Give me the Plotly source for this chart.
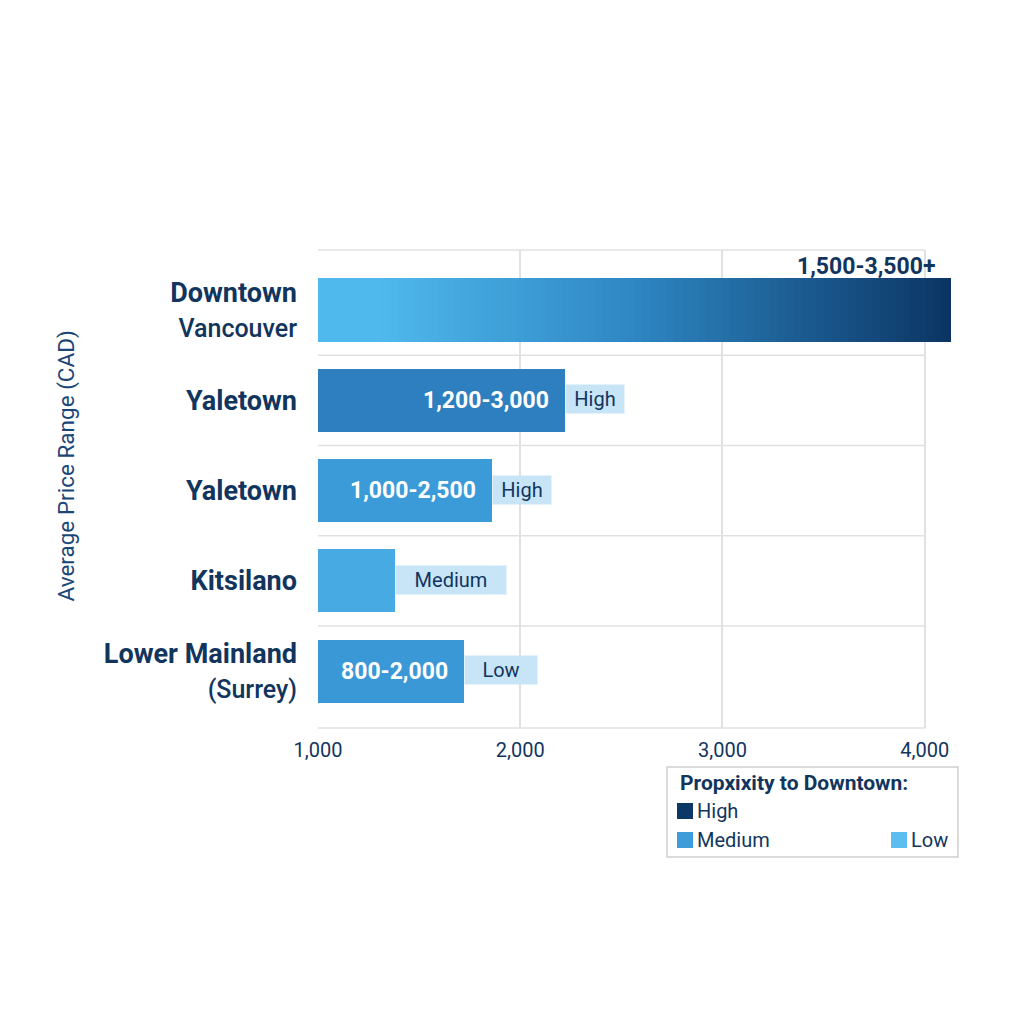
import numpy as np
import plotly.graph_objects as go

# ---------------- data ----------------
neighbourhoods = ["Downtown Vancouver", "Yaletown", "Yaletown", "Kitsilano", "Lower Mainland (Surrey)"]
tick_labels = ["<b>Downtown</b><br><span style='font-size:25px'>Vancouver</span>", "<b>Yaletown</b>",
               "<b>Yaletown</b>", "<b>Kitsilano</b>",
               "<b>Lower Mainland</b><br><span style='font-size:25px'>(Surrey)</span>"]
bar_end_values = [4130, 2220, 1860, 1380, 1720]
price_ranges = ["1,500-3,500+", "1,200-3,000", "1,000-2,500", "", "800-2,000"]
proximity = ["High", "High", "High", "Medium", "Low"]
x_ticks = [1000, 2000, 3000, 4000]
axis_start = 1000

# ---------------- style ----------------
NAVY = "#12355e"
bar_colors = [None, "#2e7fc0", "#3b9bd9", "#47aae2", "#3a98d6"]
box_bg = "#c8e5f8"
box_width = {"High": 56, "Medium": 108, "Low": 70}
legend_colors = {"High": "#0c3766", "Medium": "#3d9ddb", "Low": "#5cbdf0"}
FONT = "Roboto"
GRID = "#e1e1e1"

OFF = 8  # page body margin
W, H = 1024 - 2 * OFF, 1024 - 2 * OFF
ML, MT = 318 - OFF, 250 - OFF
MR = W - (952 - OFF)
MB = H - (728 - OFF)
pw, ph = W - ML - MR, H - MT - MB

def px_to_paper(px, py):
    # px, py are page pixel coordinates of the reference picture
    px -= OFF
    py -= OFF
    return (px - ML) / pw, (H - MB - py) / ph

y_pos = list(range(len(neighbourhoods)))
Y_RANGE = [4.63, -0.665]

fig = go.Figure()

# solid bars (all but the gradient one)
for i in range(1, len(neighbourhoods)):
    fig.add_trace(go.Bar(
        y=[y_pos[i]], x=[bar_end_values[i] - axis_start], base=[axis_start],
        orientation="h", width=0.70, marker=dict(color=bar_colors[i], line=dict(width=0)),
        hoverinfo="skip", showlegend=False))

# gradient bar for Downtown Vancouver (split into colour segments)
N = 80
edges = np.linspace(axis_start, bar_end_values[0], N + 1)
c_left = np.array([0x4f, 0xb8, 0xec])
c_mid = np.array([0x2e, 0x86, 0xc3])
c_right = np.array([0x0b, 0x35, 0x63])
seg_cols = []
for k in range(N):
    t = (k + 0.5) / N
    if t < 0.1:
        c = c_left
    elif t < 0.5:
        u = (t - 0.1) / 0.4
        c = c_left + (c_mid - c_left) * u
    else:
        u = (t - 0.5) / 0.5
        c = c_mid + (c_right - c_mid) * u
    seg_cols.append("rgb(%d,%d,%d)" % tuple(int(round(v)) for v in c))
fig.add_trace(go.Bar(
    y=[y_pos[0]] * N, x=list(np.diff(edges) * 1.02), base=list(edges[:-1]),
    orientation="h", width=0.70, marker=dict(color=seg_cols, line=dict(width=0)),
    hoverinfo="skip", showlegend=False))

annotations = []
# value labels
for i, txt in enumerate(price_ranges):
    if not txt:
        continue
    if i == 0:
        annotations.append(dict(x=bar_end_values[i], y=y_pos[i], xref="x", yref="y",
                                text="<b>%s</b>" % txt, showarrow=False, xanchor="right",
                                yanchor="middle", xshift=-14, yshift=44,
                                font=dict(family=FONT, size=23, color=NAVY)))
    else:
        annotations.append(dict(x=bar_end_values[i], y=y_pos[i], xref="x", yref="y",
                                text="<b>%s</b>" % txt, showarrow=False, xanchor="right",
                                yanchor="middle", xshift=-14,
                                font=dict(family=FONT, size=23, color="white")))
# proximity boxes
for i, p in enumerate(proximity):
    if i == 0:
        continue
    annotations.append(dict(x=bar_end_values[i], y=y_pos[i], xref="x", yref="y",
                            text=p, showarrow=False, xanchor="left", yanchor="middle",
                            width=box_width[p], height=26, bgcolor=box_bg, borderpad=1,
                            align="center", yshift=1,
                            font=dict(family=FONT, size=20, color=NAVY)))

# y-axis title
tx, ty = px_to_paper(50, 466)
annotations.append(dict(x=tx, y=ty, xref="paper", yref="paper", text="Average Price Range (CAD)",
                        textangle=-90, showarrow=False,
                        font=dict(family=FONT, size=22.5, color="#1a4677")))

shapes = []
# frame top/bottom and row separators (grid)
for yy in (0, 1):
    shapes.append(dict(type="line", xref="x", yref="paper", x0=x_ticks[0], x1=x_ticks[-1],
                       y0=yy, y1=yy, line=dict(color=GRID, width=1.5), layer="below"))
for k in range(1, len(neighbourhoods)):
    shapes.append(dict(type="line", xref="x", yref="y", x0=x_ticks[0], x1=x_ticks[-1],
                       y0=k - 0.5, y1=k - 0.5, line=dict(color=GRID, width=1.5), layer="below"))

# legend box
lx0, ly0 = px_to_paper(667, 857)
lx1, ly1 = px_to_paper(958, 767)
shapes.append(dict(type="rect", xref="paper", yref="paper", x0=lx0, y0=ly0, x1=lx1, y1=ly1,
                   line=dict(color="#cfcfcf", width=1.5), fillcolor="white"))
ax, ay = px_to_paper(678, 783)
annotations.append(dict(x=ax, y=ay, xref="paper", yref="paper", text="<b>Propxixity to Downtown:</b>",
                        showarrow=False, xanchor="left", yanchor="middle",
                        font=dict(family=FONT, size=21, color=NAVY)))
legend_items = [("High", 677, 811), ("Medium", 677, 840), ("Low", 891, 840)]
for name, sx, sy in legend_items:
    a0, b0 = px_to_paper(sx, sy + 8)
    a1, b1 = px_to_paper(sx + 16, sy - 8)
    shapes.append(dict(type="rect", xref="paper", yref="paper", x0=a0, y0=b0, x1=a1, y1=b1,
                       line=dict(width=0), fillcolor=legend_colors[name]))
    tx2, ty2 = px_to_paper(sx + 18, sy)
    annotations.append(dict(x=tx2, y=ty2, xref="paper", yref="paper", text=name, showarrow=False,
                            xanchor="left", yanchor="middle",
                            font=dict(family=FONT, size=20, color=NAVY)))

fig.update_layout(
    width=W, height=H, margin=dict(l=ML, r=MR, t=MT, b=MB),
    paper_bgcolor="white", plot_bgcolor="rgba(0,0,0,0)",
    barmode="overlay", bargap=0, showlegend=False,
    annotations=annotations, shapes=shapes,
    xaxis=dict(range=[axis_start, bar_end_values[0] + 5], tickvals=x_ticks, tickformat=",",
               showgrid=True, gridcolor=GRID, gridwidth=1.5, zeroline=False, showline=False,
               ticks="", ticklabelstandoff=8,
               tickfont=dict(family=FONT, size=20, color=NAVY)),
    yaxis=dict(range=Y_RANGE, tickvals=y_pos, ticktext=tick_labels,
               showgrid=False, zeroline=False, showline=False, ticks="", ticklabelstandoff=20,
               tickfont=dict(family=FONT, size=27, color=NAVY, weight=500)),
)

fig.write_html("out.html")
